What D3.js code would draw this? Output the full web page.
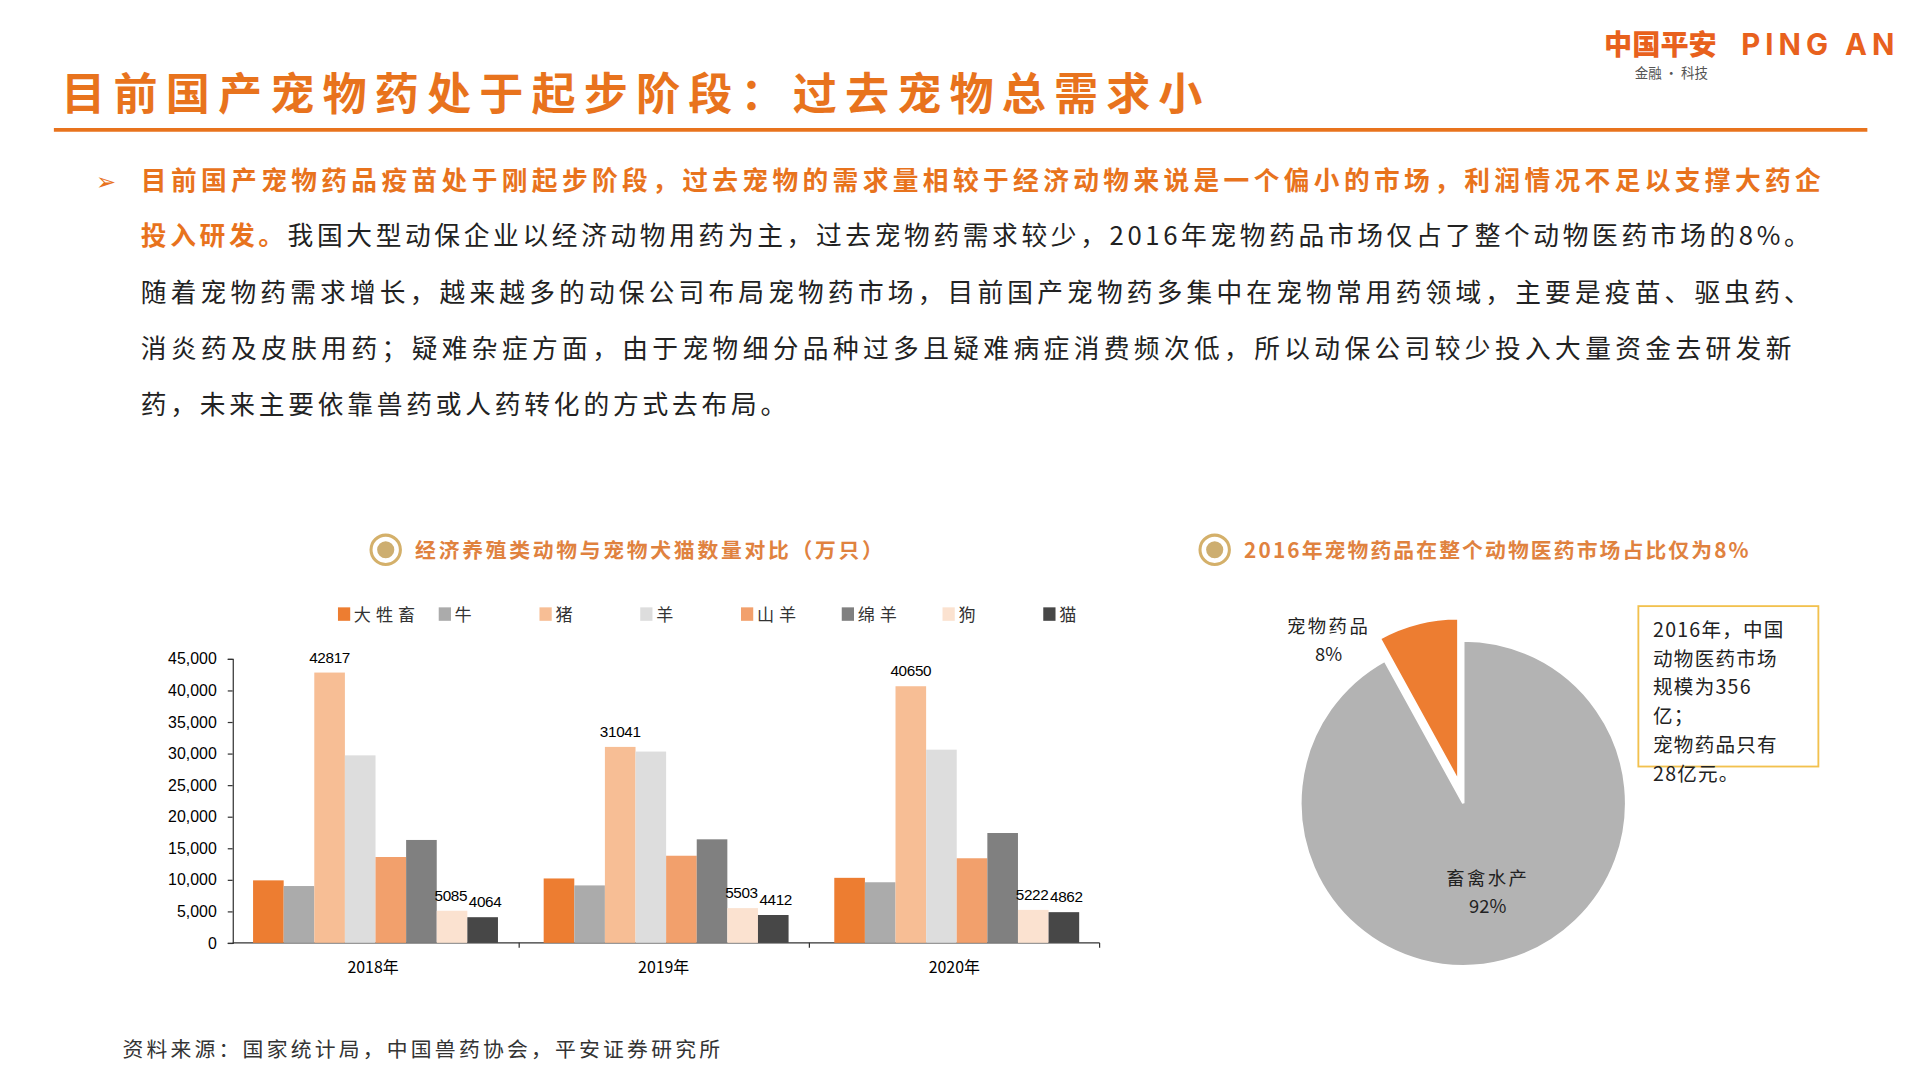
<!DOCTYPE html>
<html><head><meta charset="utf-8">
<script src="https://cdn.jsdelivr.net/npm/d3@7"></script>
<style>
body{margin:0;background:#fff;}
svg{display:block;font-family:"Noto Sans CJK SC","Noto Sans",sans-serif;}
</style></head>
<body>
<svg id="c" width="1920" height="1080" viewBox="0 0 1568 882"></svg>
<script>
// bar chart data (万只)
var years = ["2018年", "2019年", "2020年"];
var seriesNames = ["大牲畜", "牛", "猪", "羊", "山羊", "绵羊", "狗", "猫"];
var seriesColors = ["#ED7D31", "#ABABAB", "#F7BE95", "#DDDDDD", "#F2A06C", "#808080", "#FBE2D0", "#474747"];
var values = [
  [9900, 9000, 42817, 29700, 13600, 16300, 5085, 4064],
  [10200, 9100, 31041, 30300, 13800, 16400, 5503, 4412],
  [10300, 9600, 40650, 30600, 13400, 17400, 5222, 4862]
];
var labelled = [2, 6, 7]; // 猪, 狗, 猫
var yTicks = [0, 5000, 10000, 15000, 20000, 25000, 30000, 35000, 40000, 45000];
// pie data
var pieNames = ["宠物药品", "畜禽水产"];
var pieValues = [8, 92];
var pieColors = ["#ED7D31", "#B3B3B3"];

var orange = "#E8731D";
var svg = d3.select("#c");

// header
svg.append("text").attr("x", 50).attr("y", 90).attr("font-size", 36).attr("font-weight", 700)
  .attr("fill", orange).attr("textLength", 932).attr("lengthAdjust", "spacing").text("目前国产宠物药处于起步阶段：过去宠物总需求小");
svg.append("line").attr("x1", 44).attr("x2", 1525).attr("y1", 106).attr("y2", 106)
  .attr("stroke", orange).attr("stroke-width", 3);
svg.append("text").attr("x", 1310).attr("y", 45).attr("font-size", 23).attr("font-weight", 900)
  .attr("fill", "#E8611D").text("中国平安");
svg.append("text").attr("x", 1422).attr("y", 45).attr("font-size", 24).attr("font-weight", 700)
  .attr("font-family", "Inter, sans-serif").attr("fill", "#E8611D").attr("textLength", 125).text("PING AN");
svg.append("text").attr("x", 1335).attr("y", 64).attr("font-size", 11).attr("fill", "#555").text("金融 · 科技");

// body text
var lines = [
  {y: 155, x: 115, len: 1372, parts: [["目前国产宠物药品疫苗处于刚起步阶段，过去宠物的需求量相较于经济动物来说是一个偏小的市场，利润情况不足以支撑大药企", true]]},
  {y: 200, x: 115, len: 1363, parts: [["投入研发。", true], ["我国大型动保企业以经济动物用药为主，过去宠物药需求较少，2016年宠物药品市场仅占了整个动物医药市场的8%。", false]]},
  {y: 247, x: 115, len: 1363, parts: [["随着宠物药需求增长，越来越多的动保公司布局宠物药市场，目前国产宠物药多集中在宠物常用药领域，主要是疫苗、驱虫药、", false]]},
  {y: 292, x: 115, len: 1348, parts: [["消炎药及皮肤用药；疑难杂症方面，由于宠物细分品种过多且疑难病症消费频次低，所以动保公司较少投入大量资金去研发新", false]]},
  {y: 338, x: 115, len: 527, parts: [["药，未来主要依靠兽药或人药转化的方式去布局。", false]]}
];
svg.append("text").attr("x", 78).attr("y", 155).attr("font-size", 20).attr("fill", orange).text("➢");
lines.forEach(function(l) {
  var t = svg.append("text").attr("x", l.x).attr("y", l.y).attr("font-size", 21)
    .attr("textLength", l.len).attr("lengthAdjust", "spacing");
  l.parts.forEach(function(p) {
    t.append("tspan").attr("fill", p[1] ? orange : "#222").attr("font-weight", p[1] ? 700 : 400).text(p[0]);
  });
});

// section titles
function secTitle(x, y, txt, len) {
  svg.append("circle").attr("cx", x).attr("cy", y).attr("r", 12).attr("fill", "none").attr("stroke", "#D4B06A").attr("stroke-width", 2.5);
  svg.append("circle").attr("cx", x).attr("cy", y).attr("r", 7).attr("fill", "#CDAE70");
  svg.append("text").attr("x", x + 24).attr("y", y + 7).attr("font-size", 17).attr("font-weight", 700)
    .attr("fill", "#E0823F").attr("textLength", len).attr("lengthAdjust", "spacing").text(txt);
}
secTitle(315, 449, "经济养殖类动物与宠物犬猫数量对比（万只）", 382);
secTitle(992, 449, "2016年宠物药品在整个动物医药市场占比仅为8%", 412);

// legend
var legX = d3.scalePoint().domain(seriesNames).range([276, 852]);
var leg = svg.append("g").selectAll("g").data(seriesNames).join("g")
  .attr("transform", function(d) { return "translate(" + legX(d) + ",502)"; });
leg.append("rect").attr("x", 0).attr("y", -6).attr("width", 10).attr("height", 11)
  .attr("fill", function(d, i) { return seriesColors[i]; });
leg.append("text").attr("x", 13).attr("y", 5).attr("font-size", 14).attr("fill", "#333")
  .attr("letter-spacing", 4).text(function(d) { return d; });

// bar chart
var y = d3.scaleLinear().domain([0, 45000]).range([770, 538]);
var x0 = d3.scaleBand().domain(years).range([186, 898]);
var x1 = d3.scaleBand().domain(seriesNames).range([0, 200]);
svg.append("g").attr("transform", "translate(190,0)")
  .call(d3.axisLeft(y).tickValues(yTicks).tickSize(4).tickFormat(d3.format(",")))
  .call(function(g) {
    g.selectAll("text").attr("font-family", "Liberation Sans, Arial").attr("font-size", 13).attr("fill", "#000").attr("dx", -6);
    g.selectAll("line,path").attr("stroke", "#333");
  });
svg.append("line").attr("x1", 190).attr("x2", 898).attr("y1", 770).attr("y2", 770).attr("stroke", "#333");
[424, 661, 898].forEach(function(d) {
  svg.append("line").attr("x1", d).attr("x2", d).attr("y1", 770).attr("y2", 774).attr("stroke", "#333");
});
var grp = svg.append("g").selectAll("g").data(values).join("g")
  .attr("transform", function(d, i) { return "translate(" + (x0(years[i]) + (x0.bandwidth() - 200) / 2 + 2) + ",0)"; });
grp.selectAll("rect").data(function(d) { return d; }).join("rect")
  .attr("x", function(d, i) { return x1(seriesNames[i]); })
  .attr("width", x1.bandwidth())
  .attr("y", function(d) { return y(d); })
  .attr("height", function(d) { return 770 - y(d); })
  .attr("fill", function(d, i) { return seriesColors[i]; });
grp.selectAll("text").data(function(d) { return labelled.map(function(i) { return {i: i, v: d[i]}; }); }).join("text")
  .attr("x", function(d) { return x1(seriesNames[d.i]) + x1.bandwidth() / 2 + (d.i === 6 ? -1 : d.i === 7 ? 2 : 0); })
  .attr("y", function(d) { return y(d.v) - 8; })
  .attr("text-anchor", "middle").attr("font-family", "Liberation Sans, Arial").attr("font-size", 12.5)
  .attr("letter-spacing", -0.3).attr("fill", "#000")
  .text(function(d) { return d.v; });
svg.append("g").selectAll("text").data(years).join("text")
  .attr("x", function(d) { return x0(d) + x0.bandwidth() / 2; }).attr("y", 795)
  .attr("text-anchor", "middle").attr("font-size", 13).attr("fill", "#000").text(function(d) { return d; });

// pie, rotated so the pet slice ends at 12 o'clock
var pie = d3.pie().sort(null).value(function(d) { return d; })(pieValues);
var arc = d3.arc().innerRadius(0).outerRadius(133);
var shift = 2 * Math.PI * pieValues[0] / 100;
var pg = svg.append("g").attr("transform", "translate(1195,656)");
pg.selectAll("path").data(pie).join("path")
  .attr("d", function(d) { return arc({startAngle: d.startAngle - shift, endAngle: d.endAngle - shift}); })
  .attr("transform", function(d, i) { return i === 0 ? "translate(-4,-18)" : null; })
  .attr("fill", function(d, i) { return pieColors[i]; })
  .attr("stroke", "#fff").attr("stroke-width", 2);
svg.append("text").attr("x", 1085).attr("y", 517).attr("text-anchor", "middle").attr("font-size", 15).attr("letter-spacing", 2).attr("fill", "#222").text(pieNames[0]);
svg.append("text").attr("x", 1085).attr("y", 540).attr("text-anchor", "middle").attr("font-size", 15).attr("fill", "#222").text(pieValues[0] + "%");
svg.append("text").attr("x", 1215).attr("y", 723).attr("text-anchor", "middle").attr("font-size", 15).attr("letter-spacing", 2).attr("fill", "#222").text(pieNames[1]);
svg.append("text").attr("x", 1215).attr("y", 746).attr("text-anchor", "middle").attr("font-size", 15).attr("fill", "#222").text(pieValues[1] + "%");

// note box
svg.append("rect").attr("x", 1338).attr("y", 495).attr("width", 147).attr("height", 131)
  .attr("fill", "#fff").attr("stroke", "#F2C14E").attr("stroke-width", 1.5);
["2016年，中国", "动物医药市场", "规模为356", "亿；", "宠物药品只有", "28亿元。"].forEach(function(s, i) {
  svg.append("text").attr("x", 1350).attr("y", 520 + i * 23.5).attr("font-size", 16).attr("letter-spacing", 1).attr("fill", "#222").text(s);
});

// source
svg.append("text").attr("x", 100).attr("y", 863).attr("font-size", 17).attr("fill", "#333")
  .attr("textLength", 488).attr("lengthAdjust", "spacing").text("资料来源：国家统计局，中国兽药协会，平安证券研究所");
</script>
</body></html>
